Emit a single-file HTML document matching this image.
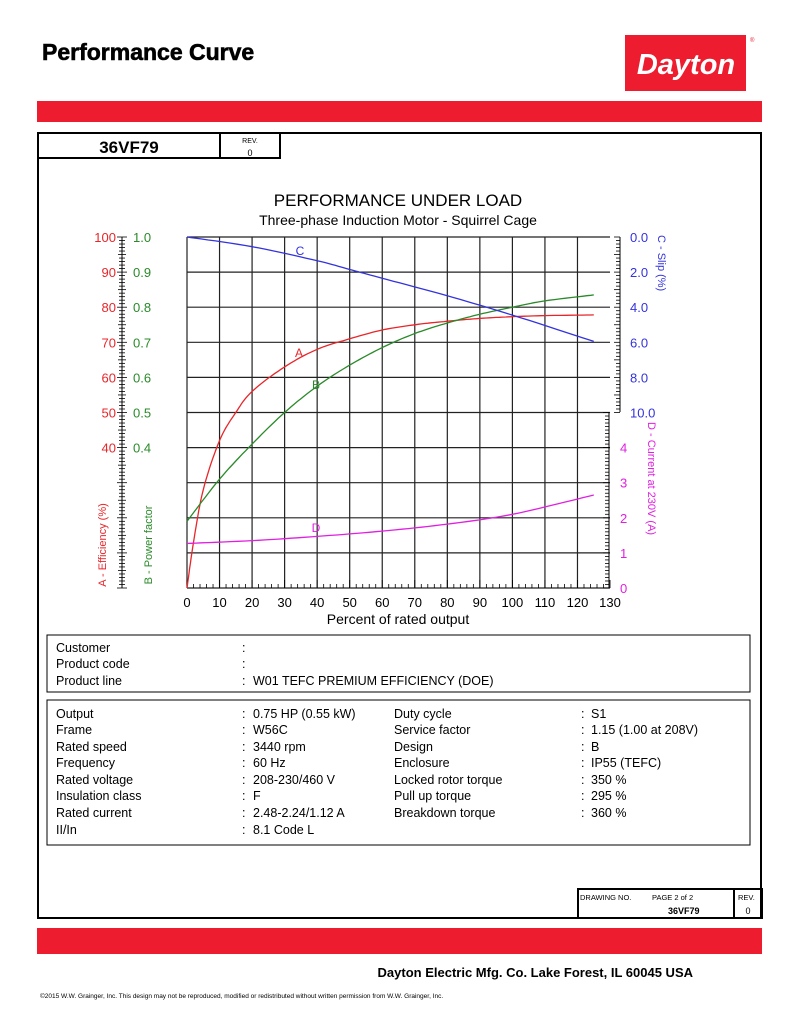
<!DOCTYPE html>
<html><head><meta charset="utf-8"><style>
body{margin:0;background:#fff}
svg{display:block;font-family:"Liberation Sans",Arial,sans-serif}
</style></head><body>
<svg id="s" width="800" height="1035" viewBox="0 0 800 1035" xmlns="http://www.w3.org/2000/svg" xml:space="preserve">
<text x="42" y="60" font-size="23" font-weight="bold" stroke="#000" stroke-width="0.6">Performance Curve</text>
<rect x="625" y="35" width="121" height="56" fill="#ed1c2e"/>
<text x="686" y="74" font-size="29" font-weight="bold" font-style="italic" fill="#fff" text-anchor="middle">Dayton</text>
<text x="750" y="42" font-size="6" fill="#ed1c2e">®</text>
<rect x="37" y="101" width="725" height="21" fill="#ed1c2e"/>
<rect x="38" y="133" width="723" height="785" fill="none" stroke="#000" stroke-width="2"/>
<rect x="38" y="133" width="182" height="25" fill="none" stroke="#000" stroke-width="2"/>
<rect x="220" y="133" width="60" height="25" fill="none" stroke="#000" stroke-width="2"/>
<text x="129" y="153" font-size="17" font-weight="bold" text-anchor="middle">36VF79</text>
<text x="250" y="143" font-size="7" text-anchor="middle">REV.</text>
<text x="250" y="156" font-size="9" text-anchor="middle">0</text>
<text x="398" y="206" font-size="17" text-anchor="middle">PERFORMANCE UNDER LOAD</text>
<text x="398" y="225" font-size="14" text-anchor="middle">Three-phase Induction Motor - Squirrel Cage</text>
<g id="chart"></g>
<text x="398" y="624" font-size="14" text-anchor="middle">Percent of rated output</text>
<text transform="translate(106,545) rotate(-90)" font-size="11" fill="#e8262a" text-anchor="middle">A - Efficiency (%)</text>
<text transform="translate(152,545) rotate(-90)" font-size="11" fill="#2a8a2a" text-anchor="middle">B - Power factor</text>
<text transform="translate(658,235) rotate(90)" font-size="11" fill="#3333dd">C - Slip (%)</text>
<text transform="translate(648,422) rotate(90)" font-size="11" fill="#e020e0">D - Current at 230V (A)</text>
<rect x="47" y="635" width="703" height="57" fill="none" stroke="#000" stroke-width="1"/>
<rect x="47" y="700" width="703" height="145" fill="none" stroke="#000" stroke-width="1"/>
<g font-size="12.5">
<text x="56" y="652">Customer</text><text x="242" y="652">:</text>
<text x="56" y="668">Product code</text><text x="242" y="668">:</text>
<text x="56" y="685">Product line</text><text x="242" y="685">:</text><text x="253" y="685">W01 TEFC PREMIUM EFFICIENCY (DOE)</text>
<text x="56" y="718">Output</text><text x="242" y="718">:</text><text x="253" y="718">0.75 HP (0.55 kW)</text>
<text x="56" y="734">Frame</text><text x="242" y="734">:</text><text x="253" y="734">W56C</text>
<text x="56" y="751">Rated speed</text><text x="242" y="751">:</text><text x="253" y="751">3440 rpm</text>
<text x="56" y="767">Frequency</text><text x="242" y="767">:</text><text x="253" y="767">60 Hz</text>
<text x="56" y="784">Rated voltage</text><text x="242" y="784">:</text><text x="253" y="784">208-230/460 V</text>
<text x="56" y="800">Insulation class</text><text x="242" y="800">:</text><text x="253" y="800">F</text>
<text x="56" y="817">Rated current</text><text x="242" y="817">:</text><text x="253" y="817">2.48-2.24/1.12 A</text>
<text x="56" y="834">II/In</text><text x="242" y="834">:</text><text x="253" y="834">8.1   Code L</text>
<text x="394" y="718">Duty cycle</text><text x="581" y="718">:</text><text x="591" y="718">S1</text>
<text x="394" y="734">Service factor</text><text x="581" y="734">:</text><text x="591" y="734">1.15  (1.00 at 208V)</text>
<text x="394" y="751">Design</text><text x="581" y="751">:</text><text x="591" y="751">B</text>
<text x="394" y="767">Enclosure</text><text x="581" y="767">:</text><text x="591" y="767">IP55 (TEFC)</text>
<text x="394" y="784">Locked rotor torque</text><text x="581" y="784">:</text><text x="591" y="784">350 %</text>
<text x="394" y="800">Pull up torque</text><text x="581" y="800">:</text><text x="591" y="800">295 %</text>
<text x="394" y="817">Breakdown torque</text><text x="581" y="817">:</text><text x="591" y="817">360 %</text>
</g>
<rect x="578" y="889" width="184" height="29" fill="none" stroke="#000" stroke-width="2"/>
<line x1="734" y1="889" x2="734" y2="918" stroke="#000" stroke-width="2"/>
<text x="580" y="900" font-size="7.5">DRAWING NO.</text>
<text x="652" y="900" font-size="7.5">PAGE 2  of 2</text>
<text x="668" y="914" font-size="9" font-weight="bold">36VF79</text>
<text x="738" y="900" font-size="7.5">REV.</text>
<text x="748" y="914" font-size="9" text-anchor="middle">0</text>
<rect x="37" y="928" width="725" height="26" fill="#ed1c2e"/>
<text x="693" y="977" font-size="13" font-weight="bold" text-anchor="end">Dayton Electric Mfg. Co.  Lake Forest, IL  60045  USA</text>
<text x="40" y="998" font-size="6.5">©2015 W.W. Grainger, Inc.   This design may not be reproduced, modified or redistributed without written permission from W.W. Grainger, Inc.</text>
</svg>
<script>
var g=document.getElementById('chart'),h='';
var X=function(p){return 187+p*3.254},Y=function(v){return 588-v*3.51};
function L(a,b,c,d,col,w){h+='<line x1="'+a+'" y1="'+b+'" x2="'+c+'" y2="'+d+'" stroke="'+(col||'#000')+'" stroke-width="'+(w||1)+'"/>';}
function T(x,y,t,col,anc,fs){h+='<text x="'+x+'" y="'+y+'" fill="'+col+'" font-size="'+(fs||13)+'" text-anchor="'+(anc||'start')+'">'+t+'</text>';}
for(var i=0;i<=12;i++)L(X(i*10),237,X(i*10),588,'#222',1.2);
for(var i=0;i<=10;i++)L(187,Y(i*10),X(130),Y(i*10),'#222',1.2);
L(122,237,122,588);
for(var i=0;i<=100;i++){var w=i%10==0?5:(i%5==0?4:3);L(122-w,Y(i),122+w,Y(i),'#000',0.8);}
for(var i=4;i<=10;i++){T(116,Y(i*10)+5,i*10,'#e8262a','end');T(133,Y(i*10)+5,(i/10).toFixed(1),'#2a8a2a','start');}
for(var p=0;p<=130;p+=2){L(X(p),588,X(p),p%10==0?580:584,'#000',0.8);}
for(var i=0;i<=13;i++)T(X(i*10),607,i*10,'#000','middle');
L(620,237,620,412);
for(var i=0;i<=50;i++){var y=237+i*3.51;L(620,y,620-(i%5==0?6:4),y,'#000',0.8);}
for(var i=0;i<=5;i++)T(630,237+i*35.1+5,(i*2).toFixed(1),'#3333dd','start');
L(609,412,609,588);
for(var i=0;i<=50;i++){var y=588-i*3.51;L(609,y,609-(i%10==0?6:4),y,'#000',0.8);}
for(var i=0;i<=4;i++)T(620,588-i*35.1+5,i,'#e020e0','start');
function P(pts,col,fy){
 var s='';for(var k=0;k<pts.length-1;k++){var p0=pts[Math.max(k-1,0)],p1=pts[k],p2=pts[k+1],p3=pts[Math.min(k+2,pts.length-1)];
 for(var t=0;t<=1;t+=0.1){var t2=t*t,t3=t2*t;var f=function(a,b,c,d){return 0.5*(2*b+(-a+c)*t+(2*a-5*b+4*c-d)*t2+(-a+3*b-3*c+d)*t3)};
 s+=X(f(p0[0],p1[0],p2[0],p3[0])).toFixed(1)+','+fy(f(p0[1],p1[1],p2[1],p3[1])).toFixed(1)+' ';}}
 h+='<polyline points="'+s+'" fill="none" stroke="'+col+'" stroke-width="1.3"/>';}
P([[0,0],[2,13],[5,28],[10,42],[15,50],[20,56],[30,63],[40,68],[50,71],[60,73.5],[70,75],[80,76],[90,76.8],[100,77.3],[110,77.6],[125,77.8]],'#e8262a',Y);
P([[0,19],[10,31],[20,41],[30,50],[40,57.5],[50,63.5],[60,68.5],[70,72.5],[80,75.5],[90,78],[100,80],[110,81.8],[125,83.5]],'#2a8a2a',Y);
P([[0,0],[20,0.55],[40,1.35],[50,1.85],[60,2.35],[80,3.35],[100,4.45],[125,5.95]],'#3333dd',function(s){return 237+s*17.55});
P([[0,1.27],[20,1.35],[40,1.47],[60,1.62],[80,1.82],[100,2.1],[125,2.65]],'#e020e0',function(a){return 588-a*35.1});
T(299,357,'A','#e8262a','middle',12);T(316,389,'B','#2a8a2a','middle',12);T(300,255,'C','#3333dd','middle',12);T(316,532,'D','#e020e0','middle',12);
g.innerHTML=h;
</script>
</body></html>
